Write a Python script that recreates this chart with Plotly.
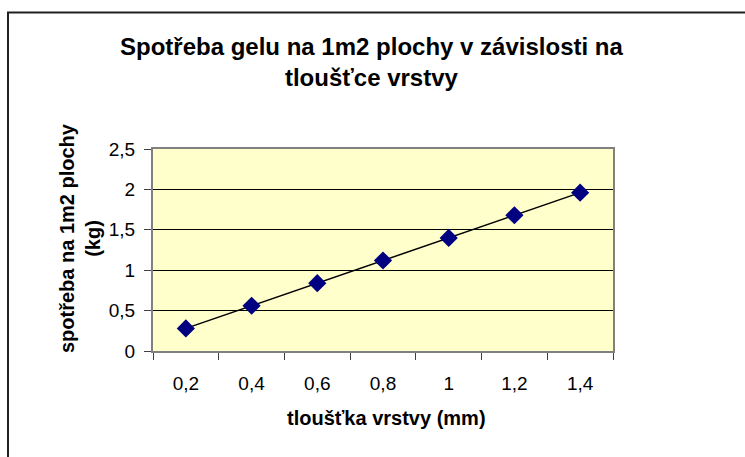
import plotly.graph_objects as go

categories = ["0,2", "0,4", "0,6", "0,8", "1", "1,2", "1,4"]
spotreba = [0.28, 0.56, 0.84, 1.12, 1.40, 1.68, 1.96]
y_ticks = [0, 0.5, 1, 1.5, 2, 2.5]
y_ticktext = ["0", "0,5", "1", "1,5", "2", "2,5"]

W, H = 745, 457
L, R, T, B = 153, 613, 149, 351  # plot area in pixels


def px(x):
    return (x - L) / (R - L)


def py(y):
    return (B - y) / (B - T)


FONT = "Liberation Sans, Arial, sans-serif"

fig = go.Figure()
fig.add_trace(go.Scatter(
    x=categories, y=spotreba, mode="lines+markers",
    line=dict(color="black", width=1.5),
    marker=dict(symbol="diamond", size=14, color="#000080", line=dict(width=0)),
    showlegend=False, cliponaxis=False,
))

fig.update_layout(
    width=W, height=H,
    margin=dict(l=L, r=W - R, t=T, b=H - B, pad=0),
    paper_bgcolor="white",
    plot_bgcolor="#FFFFCC",
    font=dict(family=FONT, size=19, color="black"),
    xaxis=dict(
        type="category", range=[-0.5, 6.5], tickson="boundaries",
        ticks="outside", ticklen=7, tickcolor="#404040", tickwidth=1,
        showgrid=False, zeroline=False,
        showline=True, linecolor="#808080", linewidth=2, mirror=True,
        ticklabelstandoff=14, tickfont=dict(size=19),
    ),
    yaxis=dict(
        range=[0, 2.5], tickvals=y_ticks, ticktext=y_ticktext,
        ticks="outside", ticklen=7, tickcolor="#404040", tickwidth=1,
        showgrid=True, gridcolor="black", gridwidth=1, zeroline=False,
        showline=True, linecolor="#808080", linewidth=2, mirror=True,
        ticklabelstandoff=5, tickfont=dict(size=19),
    ),
)

# outer chart border
fig.add_shape(type="rect", xref="paper", yref="paper",
              x0=px(8), x1=px(770), y0=py(480), y1=py(12.5),
              line=dict(color="#202020", width=2), fillcolor="rgba(0,0,0,0)",
              layer="below")

fig.add_annotation(
    text="<b>Spotřeba gelu na 1m2 plochy v závislosti na<br>tloušťce vrstvy</b>",
    xref="paper", yref="paper", x=px(371), y=py(62), xanchor="center", yanchor="middle",
    showarrow=False, font=dict(family=FONT, size=24, color="black"), align="center",
)
fig.add_annotation(
    text="<b>tloušťka vrstvy (mm)</b>",
    xref="paper", yref="paper", x=px(386), y=py(418), xanchor="center", yanchor="middle",
    showarrow=False, font=dict(family=FONT, size=20, color="black"),
)
fig.add_annotation(
    text="<b>spotřeba na 1m2 plochy<br>(kg)</b>",
    xref="paper", yref="paper", x=px(80), y=py(238), xanchor="center", yanchor="middle",
    showarrow=False, textangle=-90, font=dict(family=FONT, size=20, color="black"), align="center",
)

fig.write_html("out.html", config={"displayModeBar": False},
               post_script="document.body.style.margin='0';")
